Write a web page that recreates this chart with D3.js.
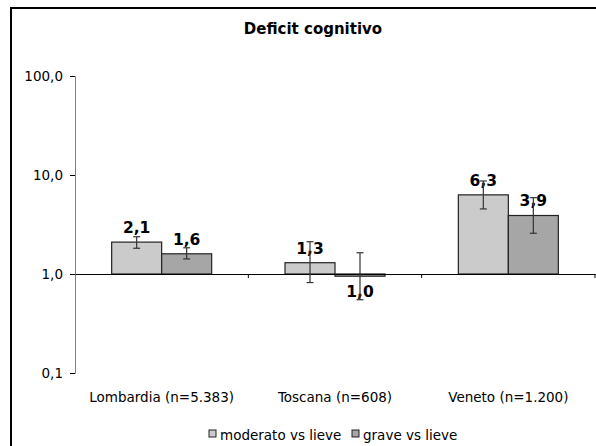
<!DOCTYPE html>
<html><head><meta charset="utf-8">
<script src="https://cdn.jsdelivr.net/npm/d3@7"></script>
<style>body{margin:0;background:#fff}svg{display:block}</style>
</head><body>
<svg id="c" width="596" height="446"></svg>
<script>
const categories = ["Lombardia (n=5.383)", "Toscana (n=608)", "Veneto (n=1.200)"];
const series = ["moderato vs lieve", "grave vs lieve"];
const moderato = [2.1, 1.3, 6.3];
const grave = [1.6, 0.95, 3.9];
const moderatoLabels = ["2,1", "1,3", "6,3"];
const graveLabels = ["1,6", "1,0", "3,9"];
const moderatoLow = [1.82, 0.82, 4.54];
const moderatoHigh = [2.38, 2.12, 8.7];
const graveLow = [1.42, 0.55, 2.58];
const graveHigh = [1.84, 1.64, 5.9];
const yTicks = [0.1, 1, 10, 100];
const colors = ["#cbcbcb", "#a6a6a6"];
const title = "Deficit cognitivo";

const svg = d3.select("#c");
const font = "DejaVu Sans, Verdana, sans-serif";

// frame
svg.append("rect").attr("x", 11).attr("y", 8).attr("width", 640).attr("height", 480)
  .attr("fill", "none").attr("stroke", "#000").attr("stroke-width", 2);

const y = d3.scaleLog().domain([0.1, 100]).range([373, 76]);
const x0 = d3.scaleBand().domain(categories).range([75, 595]).padding(0);
const groupW = 100;
const x1 = d3.scaleBand().domain(series).range([0, groupW]).padding(0);
const gx = c => x0(c) + (x0.bandwidth() - groupW) / 2;

const loc = d3.formatLocale({decimal: ",", thousands: ".", grouping: [3], currency: ["", "€"]});
const fmt = loc.format(".1f");

// y axis
const yAxis = d3.axisLeft(y).tickValues(yTicks).tickFormat(fmt).tickSizeOuter(0).tickSize(5).tickPadding(7);
const ga = svg.append("g").attr("transform", "translate(75,0)").call(yAxis);
ga.select(".domain").attr("stroke", "#808080");
ga.selectAll(".tick line").attr("stroke", "#000");
ga.selectAll(".tick text").attr("font-family", font).attr("font-size", 13.5).attr("fill", "#000");

const data = [
  {vals: moderato, labels: moderatoLabels, lo: moderatoLow, hi: moderatoHigh},
  {vals: grave, labels: graveLabels, lo: graveLow, hi: graveHigh}
];

const base = y(1);
// bars
series.forEach((s, si) => {
  const d = data[si];
  categories.forEach((c, ci) => {
    const v = d.vals[ci];
    svg.append("rect")
      .attr("x", gx(c) + x1(s)).attr("width", x1.bandwidth())
      .attr("y", Math.min(y(v), base)).attr("height", Math.abs(y(v) - base))
      .attr("fill", colors[si]).attr("stroke", "#222").attr("stroke-width", 1.2);
  });
});

// x axis (at value 1)
const xAxis = d3.axisBottom(x0).tickSize(0).tickFormat("");
const gxa = svg.append("g").attr("transform", `translate(0,${base})`).call(xAxis);
gxa.select(".domain").attr("stroke", "#000");
// category separator ticks
const seps = categories.map(c => x0(c) + x0.bandwidth());
svg.selectAll(".sep").data(seps).enter().append("line")
  .attr("x1", d => d).attr("x2", d => d).attr("y1", base).attr("y2", base + 4)
  .attr("stroke", "#000");

// category labels
svg.selectAll(".cat").data(categories).enter().append("text")
  .attr("x", c => x0(c) + x0.bandwidth() / 2).attr("y", 402)
  .attr("text-anchor", "middle").attr("font-family", font).attr("font-size", 13.5)
  .text(c => c);

// data labels
series.forEach((s, si) => {
  const d = data[si];
  categories.forEach((c, ci) => {
    const v = d.vals[ci];
    const cx = gx(c) + x1(s) + x1.bandwidth() / 2;
    svg.append("text")
      .attr("x", cx).attr("y", v >= 1 ? y(v) - 9 : y(v) + 21)
      .attr("text-anchor", "middle").attr("font-family", font)
      .attr("font-weight", "bold").attr("font-size", 15.5).text(d.labels[ci]);
  });
});

// error bars
series.forEach((s, si) => {
  const d = data[si];
  categories.forEach((c, ci) => {
    const cx = gx(c) + x1(s) + x1.bandwidth() / 2;
    const g = svg.append("g").attr("stroke", "#333").attr("stroke-width", 1.2);
    g.append("line").attr("x1", cx).attr("x2", cx).attr("y1", y(d.lo[ci])).attr("y2", y(d.hi[ci]));
    [d.lo[ci], d.hi[ci]].forEach(v => {
      g.append("line").attr("x1", cx - 3.5).attr("x2", cx + 3.5).attr("y1", y(v)).attr("y2", y(v));
    });
  });
});

// title
svg.append("text").attr("x", 313).attr("y", 34).attr("text-anchor", "middle")
  .attr("font-family", font).attr("font-weight", "bold").attr("font-size", 15).text(title);

// legend
const legX = [209, 352];
series.forEach((s, si) => {
  svg.append("rect").attr("x", legX[si]).attr("y", 430).attr("width", 7).attr("height", 7)
    .attr("fill", colors[si]).attr("stroke", "#222").attr("stroke-width", 1);
  svg.append("text").attr("x", legX[si] + 11).attr("y", 440)
    .attr("font-family", font).attr("font-size", 13.5).text(s);
});
</script>
</body></html>
